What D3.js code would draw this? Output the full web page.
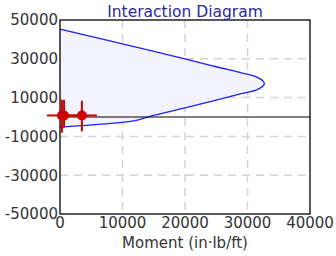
<!DOCTYPE html>
<html><head><meta charset="utf-8">
<script src="https://cdn.jsdelivr.net/npm/d3@7"></script>
<style>body{margin:0;background:#fff}svg{display:block}</style>
</head><body>
<svg id="c" width="336" height="256"></svg>
<script>
const curveMoment = [0, 10000, 20300, 25000, 29000, 31500, 32400, 32700, 32400, 31500, 29000, 25000, 20000, 14400, 12000, 0];
const curveAxial  = [45300, 37700, 29700, 25900, 22800, 20600, 18800, 17200, 15700, 14000, 12000, 8700, 4700, 300, -1900, -5200];
const pointMoment = [300, 650, 3500];
const pointAxial  = [800, 800, 800];
const errUp   = [8100, 8100, 7600];
const errDown = [8900, 6300, 8200];
const errSide = [2400, 600, 2400];
const xTicks = [0, 10000, 20000, 30000, 40000];
const yTicks = [50000, 30000, 10000, -10000, -30000, -50000];

const svg = d3.select("#c");
const L = 60, R = 310, T = 20, B = 214;
const x = d3.scaleLinear().domain([0, 40000]).range([L, R]);
const y = d3.scaleLinear().domain([-50000, 50000]).range([B, T]);
const font = "DejaVu Sans, Verdana, sans-serif";

// grid
const grid = svg.append("g").attr("stroke", "#d4d4d4").attr("stroke-width", 1.5).attr("stroke-dasharray", "8,6");
xTicks.slice(1, -1).forEach(v => grid.append("line").attr("x1", x(v)).attr("x2", x(v)).attr("y1", T).attr("y2", B));
yTicks.slice(1, -1).forEach(v => grid.append("line").attr("x1", L).attr("x2", R).attr("y1", y(v)).attr("y2", y(v)));

// curve
const pts = curveMoment.map((m, i) => [m, curveAxial[i]]);
svg.append("path").datum(pts)
  .attr("d", d3.line().x(d => x(d[0])).y(d => y(d[1])).curve(d3.curveCatmullRom))
  .attr("fill", "#f3f3fd").attr("stroke", "#1f1fff").attr("stroke-width", 1.3);

// zero line
svg.append("line").attr("x1", L).attr("x2", R).attr("y1", y(0)).attr("y2", y(0)).attr("stroke", "#000").attr("stroke-width", 1);

// frame
svg.append("rect").attr("x", L).attr("y", T).attr("width", R - L).attr("height", B - T)
  .attr("fill", "none").attr("stroke", "#000").attr("stroke-width", 1.3);

// points with error bars
const pg = svg.append("g");
pointMoment.forEach((m, i) => {
  const p = pointAxial[i];
  pg.append("line").attr("x1", x(m - errSide[i])).attr("x2", x(m + errSide[i])).attr("y1", y(p)).attr("y2", y(p))
    .attr("stroke", "#cc0000").attr("stroke-width", 2);
  pg.append("line").attr("x1", x(m)).attr("x2", x(m)).attr("y1", y(p + errUp[i])).attr("y2", y(p - errDown[i]))
    .attr("stroke", "#cc0000").attr("stroke-width", 2);
});
pointMoment.forEach((m, i) => {
  pg.append("circle").attr("cx", x(m)).attr("cy", y(pointAxial[i])).attr("r", 5).attr("fill", "#cc0000");
});

// tick labels
svg.append("g").selectAll("text").data(yTicks).join("text")
  .attr("x", L - 2).attr("y", d => y(d)).attr("dy", "0.36em").attr("text-anchor", "end")
  .attr("font-family", font).attr("font-size", 15).attr("fill", "#333").text(d => d);
svg.append("g").selectAll("text").data(xTicks).join("text")
  .attr("x", d => x(d)).attr("y", 228).attr("text-anchor", "middle")
  .attr("font-family", font).attr("font-size", 15).attr("fill", "#333").text(d => d);

// titles
svg.append("text").attr("x", (L + R) / 2).attr("y", 17).attr("text-anchor", "middle")
  .attr("font-family", font).attr("font-size", 15.5).attr("fill", "#2a2a9a").text("Interaction Diagram");
svg.append("text").attr("x", (L + R) / 2).attr("y", 248).attr("text-anchor", "middle")
  .attr("font-family", font).attr("font-size", 15).attr("fill", "#333").text("Moment (in·lb/ft)");
</script>
</body></html>
